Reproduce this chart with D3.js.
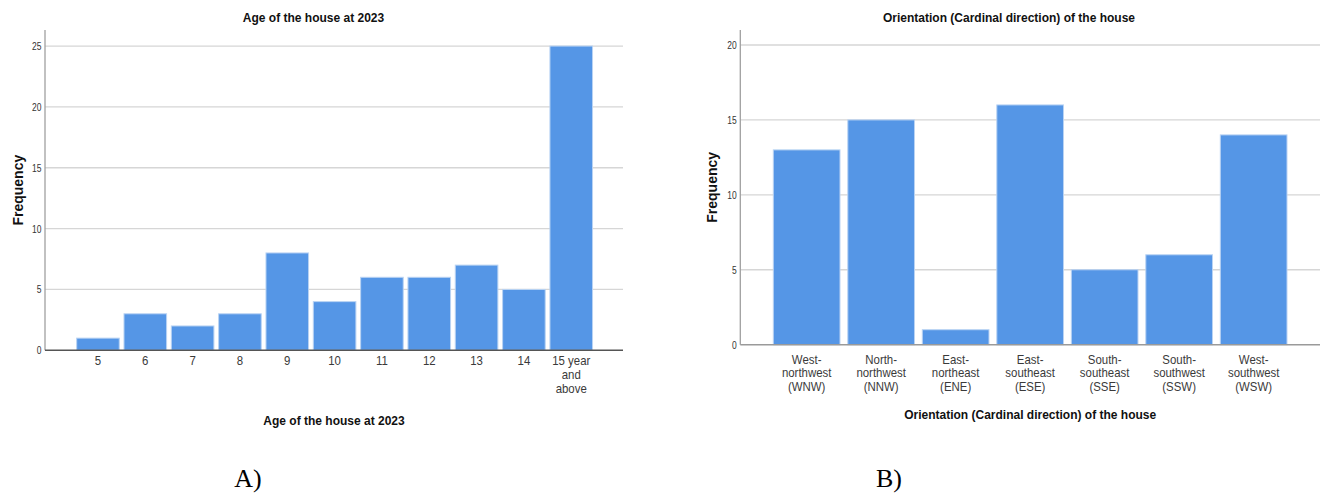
<!DOCTYPE html>
<html>
<head>
<meta charset="utf-8">
<script src="https://cdn.jsdelivr.net/npm/d3@7"></script>
<style>
  body { margin: 0; background: #fff; }
  text { font-family: "Liberation Sans", Arial, sans-serif; }
</style>
</head>
<body>
<svg id="fig" width="1323" height="494"></svg>
<script>
// Panel A: age of the house
const ageTitle = "Age of the house at 2023";
const ageCategories = ["5", "6", "7", "8", "9", "10", "11", "12", "13", "14", "15 year\nand\nabove"];
const ageCounts = [1, 3, 2, 3, 8, 4, 6, 6, 7, 5, 25];
const ageTicks = [0, 5, 10, 15, 20, 25];

// Panel B: orientation of the house
const dirTitle = "Orientation (Cardinal direction) of the house";
const dirCategories = [
  "West-\nnorthwest\n(WNW)", "North-\nnorthwest\n(NNW)", "East-\nnortheast\n(ENE)",
  "East-\nsoutheast\n(ESE)", "South-\nsoutheast\n(SSE)", "South-\nsouthwest\n(SSW)",
  "West-\nsouthwest\n(WSW)"
];
const dirCounts = [13, 15, 1, 16, 5, 6, 14];
const dirTicks = [0, 5, 10, 15, 20];

const panelLabels = ["A)", "B)"];

const svg = d3.select("#fig");

const BAR_FILL = "#5596e6";
const BAR_EDGE = "#b9d3f3";
const GRID = "#d6d6d6";

function drawPanel(cfg) {
  const g = svg.append("g");

  const x = d3.scaleBand()
    .domain(cfg.categories)
    .range(cfg.bandRange)
    .paddingInner(cfg.padInner)
    .paddingOuter(cfg.padInner / 2);

  const y = d3.scaleLinear()
    .domain([0, cfg.yMax])
    .range([cfg.base, cfg.top]);

  // horizontal gridlines
  g.append("g").selectAll("line")
    .data(cfg.ticks.filter(t => t > 0))
    .join("line")
    .attr("x1", cfg.left).attr("x2", cfg.right)
    .attr("y1", d => y(d)).attr("y2", d => y(d))
    .attr("stroke", GRID).attr("stroke-width", 1.3);

  // bars
  g.append("g").selectAll("rect")
    .data(cfg.counts)
    .join("rect")
    .attr("x", (d, i) => x(cfg.categories[i]))
    .attr("width", x.bandwidth())
    .attr("y", d => y(d))
    .attr("height", d => y(0) - y(d))
    .attr("fill", BAR_FILL)
    .attr("stroke", BAR_EDGE)
    .attr("stroke-width", 1);

  // y axis
  const yAxis = g.append("g")
    .attr("transform", `translate(${cfg.left},0)`)
    .call(d3.axisLeft(y).tickValues(cfg.ticks).tickSize(0).tickPadding(0));
  yAxis.select(".domain").remove();
  yAxis.selectAll("text")
    .attr("x", 0).attr("dy", "0.34em")
    .attr("fill", "#333")
    .style("font-size", "10px")
    .style("font-family", "'Liberation Sans', Arial, sans-serif")
    .attr("transform", "translate(-3.5,0) scale(0.85,1)");
  g.append("line")
    .attr("x1", cfg.left).attr("x2", cfg.left)
    .attr("y1", cfg.top).attr("y2", cfg.base)
    .attr("stroke", "#a0a0a0").attr("stroke-width", 1.3);

  // x axis
  const xAxis = g.append("g")
    .attr("transform", `translate(0,${cfg.base})`)
    .call(d3.axisBottom(x).tickSize(0).tickPadding(0));
  xAxis.select(".domain").remove();
  xAxis.selectAll("text")
    .attr("y", 0).attr("dy", null)
    .attr("fill", "#3a3a3a")
    .style("font-size", "13px")
    .style("font-family", "'Liberation Sans', Arial, sans-serif")
    .attr("transform", "scale(0.88,1)")
    .each(function (d) {
      const t = d3.select(this);
      const lines = d.split("\n");
      t.text(null);
      lines.forEach((ln, k) => {
        t.append("tspan")
          .attr("x", 0)
          .attr("y", cfg.tickBaseline + k * cfg.lineStep)
          .text(ln);
      });
    });
  g.append("line")
    .attr("x1", cfg.left).attr("x2", cfg.right)
    .attr("y1", cfg.base).attr("y2", cfg.base)
    .attr("stroke", cfg.baseColor).attr("stroke-width", 1.4);

  // titles
  g.append("text")
    .attr("x", cfg.titleX).attr("y", 22)
    .attr("text-anchor", "middle")
    .style("font-size", "12px").style("font-weight", "bold")
    .attr("fill", "#111")
    .text(cfg.title);

  g.append("text")
    .attr("x", (cfg.left + cfg.right) / 2).attr("y", cfg.xTitleY)
    .attr("text-anchor", "middle")
    .style("font-size", "12px").style("font-weight", "bold")
    .attr("fill", "#111")
    .text(cfg.title);

  g.append("text")
    .attr("transform", `translate(${cfg.yLabelX},${(cfg.top + cfg.base) / 2}) rotate(-90)`)
    .attr("text-anchor", "middle")
    .style("font-size", "14px").style("font-weight", "bold")
    .attr("fill", "#111")
    .text("Frequency");

  // panel letter
  svg.append("text")
    .attr("x", cfg.letterX).attr("y", 487)
    .attr("text-anchor", "middle")
    .style("font-family", "'Liberation Serif', 'Times New Roman', serif")
    .style("font-size", "26px")
    .attr("fill", "#000")
    .text(cfg.letter);
}

drawPanel({
  title: ageTitle,
  categories: ageCategories,
  counts: ageCounts,
  ticks: ageTicks,
  left: 45, right: 623, top: 30, base: 350.3,
  yMax: 26.32,
  bandRange: [74.3, 594.9], padInner: 0.1,
  tickBaseline: 14.5, lineStep: 14,
  baseColor: "#555",
  titleX: 313.5, xTitleY: 425, yLabelX: 22.5,
  letter: panelLabels[0], letterX: 248
});

drawPanel({
  title: dirTitle,
  categories: dirCategories,
  counts: dirCounts,
  ticks: dirTicks,
  left: 740.3, right: 1320, top: 30, base: 344.7,
  yMax: 21,
  bandRange: [769.4, 1290.9], padInner: 0.105,
  tickBaseline: 19, lineStep: 13.8,
  baseColor: "#9a9a9a",
  titleX: 1009, xTitleY: 418.5, yLabelX: 717,
  letter: panelLabels[1], letterX: 889
});
</script>
</body>
</html>
